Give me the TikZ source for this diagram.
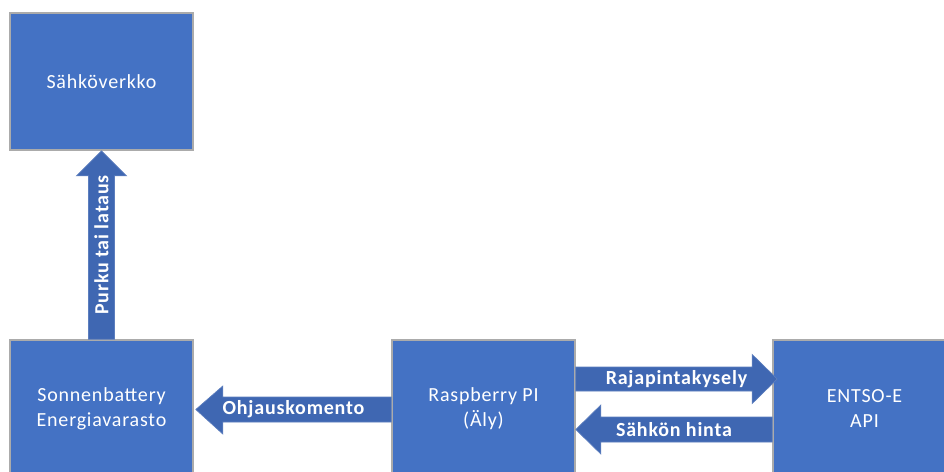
\documentclass[tikz,border=0pt]{standalone}
\usepackage{fontspec}
\setmainfont{Carlito}[LetterSpace=4]
\usetikzlibrary{calc}
\definecolor{boxblue}{HTML}{4472C4}
\definecolor{arrblue}{HTML}{3F67B2}
\definecolor{boxline}{HTML}{ABABAB}
\begin{document}
\begin{tikzpicture}[x=0.75pt,y=-0.75pt,
  box/.style={draw=boxline, line width=1.2pt, fill=boxblue, text=white, align=center,
    minimum width=137.25pt, minimum height=102.75pt, inner sep=0pt,
    font=\fontsize{15}{18.75}\selectfont},
  arr/.style={fill=arrblue, draw=arrblue!85!white, line width=0.5pt},
  lab/.style={text=white, inner sep=0pt, font=\fontsize{15}{18}\selectfont\bfseries}]
\useasboundingbox (0,0) rectangle (944,471);
\clip (0,0) rectangle (944,471);
\fill[white] (0,0) rectangle (944,471);
% boxes
\node[box] (sv) at (101.5,81.5) {Sähköverkko};
\node[box] (sb) at (101.5,408.5) {Sonnenbattery\\Energiavarasto};
\node[box] (rp) at (483.5,408.5) {Raspberry PI\\(Äly)};
\node[box] (en) at (864.5,408.5) {ENTSO-E\\API};
% up arrow
\path[arr] ($(sb.north)+(-13,0)$) -- ($(sv.south)+(-13,25)$) -- ($(sv.south)+(-25,25)$)
  -- (sv.south) -- ($(sv.south)+(25,25)$) -- ($(sv.south)+(13,25)$)
  -- ($(sb.north)+(13,0)$) -- cycle;
\path (sb.north) -- (sv.south) node[midway, lab, rotate=90] (l1) {Purku tai lataus};
% Rajapintakysely
\path[arr] ($(rp.east)+(0,-41.5)$) -- ($(en.west)+(-20,-41.5)$) -- ($(en.west)+(-20,-54)$)
  -- ($(en.west)+(5,-29.5)$) -- ($(en.west)+(-20,-5)$) -- ($(en.west)+(-20,-17.5)$)
  -- ($(rp.east)+(0,-17.5)$) -- cycle;
\path ($(rp.east)+(0,-29.5)$) -- ($(en.west)+(5,-29.5)$) node[midway, lab] (l2) {Rajapintakysely};
% Sähkön hinta
\path[arr] ($(en.west)+(0,8.5)$) -- ($(rp.east)+(25,8.5)$) -- ($(rp.east)+(25,-3.5)$)
  -- ($(rp.east)+(0,21)$) -- ($(rp.east)+(25,45.5)$) -- ($(rp.east)+(25,33.5)$)
  -- ($(en.west)+(0,33.5)$) -- cycle;
\path ($(rp.east)+(0,21)$) -- ($(en.west)+(0,21)$) node[midway, lab] (l3) {Sähkön hinta};
% Ohjauskomento
\path[arr] ($(rp.west)+(0,-11.5)$) -- ($(sb.east)+(29,-11.5)$) -- ($(sb.east)+(29,-22.5)$)
  -- ($(sb.east)+(2,1)$) -- ($(sb.east)+(29,25.5)$) -- ($(sb.east)+(29,13.5)$)
  -- ($(rp.west)+(0,13.5)$) -- cycle;
\path ($(sb.east)+(2,1)$) -- ($(rp.west)+(0,1)$) node[midway, lab] (l4) {Ohjauskomento};
\end{tikzpicture}
\end{document}
